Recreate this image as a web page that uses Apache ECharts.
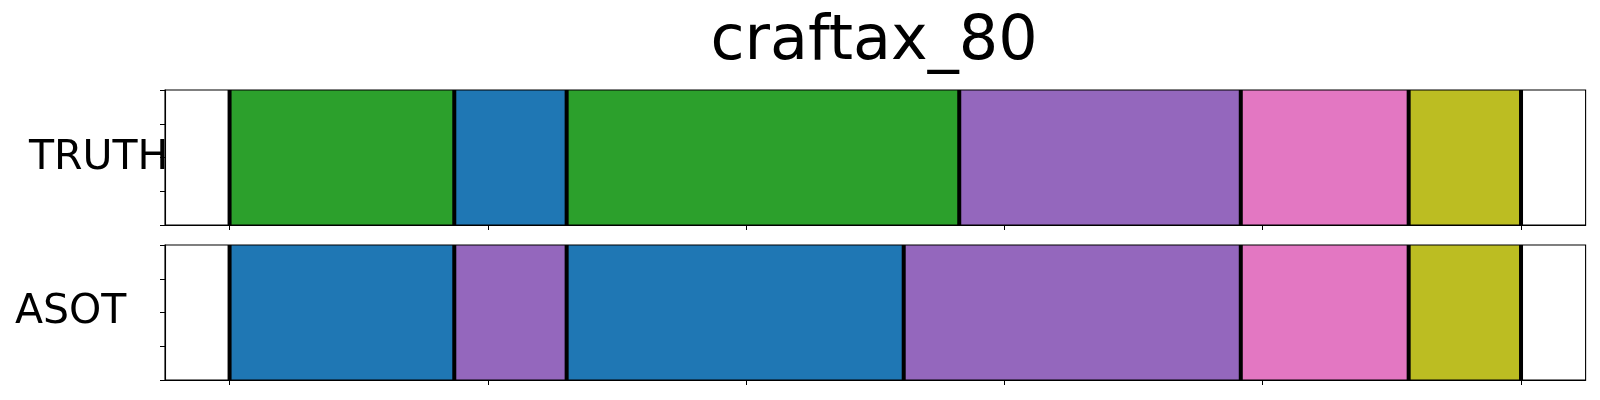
<!DOCTYPE html>
<html>
<head>
<meta charset="utf-8">
<script src="https://cdn.jsdelivr.net/npm/echarts@6/dist/echarts.min.js"></script>
<style>
html,body{margin:0;padding:0;background:#fff;}
#chart{width:1600px;height:400px;}
</style>
</head>
<body>
<div id="chart"></div>
<script>
// ---- data ----
var chartTitle = 'craftax_80';
var rowNames = ['TRUTH', 'ASOT'];
// segment boundaries (x positions, 0..100) and class ids of each segment
var truthBounds = [0, 17.4, 26.1, 56.5, 78.3, 91.3, 100];
var truthClasses = [2, 0, 2, 4, 6, 8];
var asotBounds = [0, 17.4, 26.1, 52.2, 78.3, 91.3, 100];
var asotClasses = [0, 4, 0, 4, 6, 8];
var xTicks = [0, 20, 40, 60, 80, 100];
var yTicks = [0, 0.25, 0.5, 0.75, 1];

// tab10 palette
var palette = ['#1f77b4', '#ff7f0e', '#2ca02c', '#d62728', '#9467bd',
               '#8c564b', '#e377c2', '#7f7f7f', '#bcbd22', '#17becf'];

function segs(bounds, classes) {
  var out = [];
  for (var i = 0; i < classes.length; i++) out.push([bounds[i], bounds[i + 1], classes[i]]);
  return out;
}

var gridLeft = 165, gridRight = 14.4;
var grids = [
  {left: gridLeft, right: gridRight, top: 90, height: 135},
  {left: gridLeft, right: gridRight, top: 245, height: 135}
].map(function (g) {
  g.show = true; g.borderColor = '#000'; g.borderWidth = 1.1; g.z = 10;
  g.backgroundColor = 'transparent';
  return g;
});

function xAx(i) {
  return {
    type: 'value', gridIndex: i, min: -5, max: 105, position: 'bottom',
    axisLine: {show: true, onZero: false, lineStyle: {color: '#000', width: 1.1}},
    axisTick: {show: true, customValues: xTicks, length: 5, inside: false, lineStyle: {color: '#000', width: 1}},
    axisLabel: {show: false},
    splitLine: {show: false}
  };
}
function yAx(i) {
  return {
    type: 'value', gridIndex: i, min: 0, max: 1, position: 'left',
    axisLine: {show: true, onZero: false, lineStyle: {color: '#000', width: 1.1}},
    axisTick: {show: true, customValues: yTicks, length: 5, inside: false, lineStyle: {color: '#000', width: 1}},
    axisLabel: {show: false},
    splitLine: {show: false}
  };
}

function segSeries(i, data) {
  return {
    type: 'custom', xAxisIndex: i, yAxisIndex: i, z: 2,
    data: data,
    renderItem: function (params, api) {
      var s = api.coord([api.value(0), 1]);
      var e = api.coord([api.value(1), 0]);
      var c = palette[api.value(2)];
      return {type: 'rect', shape: {x: s[0], y: s[1], width: e[0] - s[0], height: e[1] - s[1]},
              style: {fill: c, stroke: c, lineWidth: 0}};
    }
  };
}
function boundSeries(i, bounds) {
  return {
    type: 'custom', xAxisIndex: i, yAxisIndex: i, z: 3,
    data: bounds.map(function (b) { return [b]; }),
    renderItem: function (params, api) {
      var a = api.coord([api.value(0), 0]);
      var b = api.coord([api.value(0), 1]);
      return {type: 'line', shape: {x1: a[0], y1: a[1], x2: b[0], y2: b[1]},
              style: {stroke: '#000', lineWidth: 4}};
    }
  };
}

var chart = echarts.init(document.getElementById('chart'), null, {renderer: 'canvas'});
chart.setOption({
  animation: false,
  backgroundColor: '#fff',
  grid: grids,
  xAxis: [xAx(0), xAx(1)],
  yAxis: [yAx(0), yAx(1)],
  series: [
    segSeries(0, segs(truthBounds, truthClasses)),
    boundSeries(0, truthBounds),
    segSeries(1, segs(asotBounds, asotClasses)),
    boundSeries(1, asotBounds)
  ],
  graphic: [
    {type: 'text', x: 874, y: 43, z: 20,
     style: {text: chartTitle, font: '62px "DejaVu Sans"', fill: '#000', textAlign: 'center', textVerticalAlign: 'middle'}},
    {type: 'text', x: 29, y: 158.5, z: 20,
     style: {text: rowNames[0], font: '41px "DejaVu Sans"', fill: '#000', textAlign: 'left', textVerticalAlign: 'middle'}},
    {type: 'text', x: 15, y: 312.5, z: 20,
     style: {text: rowNames[1], font: '41px "DejaVu Sans"', fill: '#000', textAlign: 'left', textVerticalAlign: 'middle'}}
  ]
});
</script>
</body>
</html>
